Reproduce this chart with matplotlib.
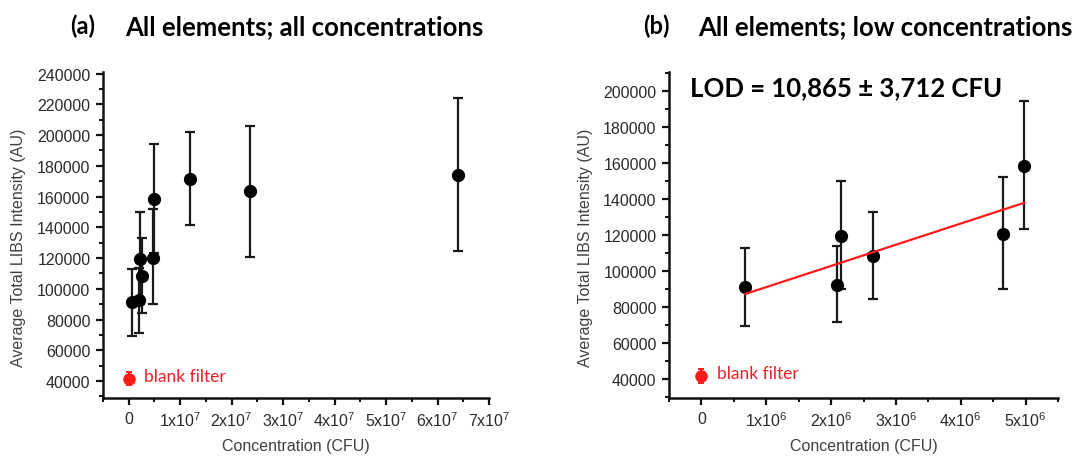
import matplotlib

matplotlib.use("Agg")
import matplotlib.pyplot as plt
from matplotlib.ticker import FixedLocator, MultipleLocator

# LIBS intensity vs. concentration, low-concentration samples
conc_low = [0.665e6, 2.09e6, 2.16e6, 2.64e6, 4.65e6, 4.98e6]
intensity_low = [91200, 92500, 119700, 108400, 120300, 158300]
err_low_lower = [69300, 71500, 90200, 84500, 90000, 123200]
err_low_upper = [113000, 113800, 150000, 132900, 152000, 194300]

# higher concentration samples (only in panel a)
conc_high = [1.20e7, 2.35e7, 6.39e7]
intensity_high = [171600, 163300, 174200]
err_high_lower = [141600, 120800, 124300]
err_high_upper = [202200, 205700, 224400]

# blank filter reference
blank_conc = 0
blank_intensity = 41600
blank_err = 4000

# linear fit over the low concentrations
fit_slope = 0.01177
fit_intercept = 79300
fit_range = [0.68e6, 4.98e6]

titles = ["All elements; all concentrations", "All elements; low concentrations"]
panel_tags = ["(a)", "(b)"]
lod_text = "LOD = 10,865 \u00b1 3,712 CFU"

TICK_FONT = "Liberation Sans"
TITLE_FONT = "Lato"
TEXT_GREY = "#2b2b2b"
RED = "#ff1a1a"

plt.rcParams["mathtext.fontset"] = "custom"
plt.rcParams["mathtext.rm"] = TICK_FONT
plt.rcParams["mathtext.it"] = TICK_FONT


def sci_label(mant, exp):
    return r"$\mathregular{%dx10^{%d}}$" % (mant, exp)


def style_axes(ax):
    for side in ["top", "right"]:
        ax.spines[side].set_visible(False)
    for side in ["left", "bottom"]:
        ax.spines[side].set_linewidth(1.8)
        ax.spines[side].set_color("#111111")
    ax.tick_params(which="major", direction="out", length=5, width=1.6,
                   colors="#111111", labelcolor=TEXT_GREY, labelsize=11.5)
    ax.tick_params(which="minor", direction="out", length=3, width=1.4, colors="#111111")
    ax.tick_params(axis="y", pad=4)
    ax.tick_params(axis="x", pad=4)
    for lbl in ax.get_xticklabels() + ax.get_yticklabels():
        lbl.set_fontfamily(TICK_FONT)
    ax.set_xlabel("Concentration (CFU)", fontsize=11.5, family=TICK_FONT,
                  color="#404040", labelpad=6)
    ax.set_ylabel("Average Total LIBS Intensity (AU)", fontsize=11.5,
                  family=TICK_FONT, color="#404040")
    ax.yaxis.set_label_coords(-0.2, 0.465)


def draw_points(ax, x, y, lo, hi):
    yerr = [[yi - l for yi, l in zip(y, lo)], [h - yi for yi, h in zip(y, hi)]]
    ax.errorbar(x, y, yerr=yerr, fmt="o", color="black", ecolor="#1a1a1a",
                markersize=8.5, elinewidth=1.6, capsize=3.5, capthick=1.6, zorder=3)


def draw_blank(ax):
    ax.errorbar([blank_conc], [blank_intensity], yerr=[blank_err], fmt="o",
                color=RED, ecolor=RED, markersize=8, elinewidth=1.4,
                capsize=2.5, capthick=1.4, zorder=3)
    ax.annotate("blank filter", (blank_conc, blank_intensity), xytext=(11, 2),
                textcoords="offset points", va="center", ha="left",
                color="#e8202a", fontsize=12.5, family=TITLE_FONT)


fig = plt.figure(figsize=(10.78, 4.6), dpi=100)
ax_a = fig.add_axes([0.0955, 0.1326, 0.3581, 0.7087])
ax_b = fig.add_axes([0.6206, 0.1326, 0.3609, 0.7087])

# panel (a): all concentrations
draw_points(ax_a, conc_low, intensity_low, err_low_lower, err_low_upper)
draw_points(ax_a, conc_high, intensity_high, err_high_lower, err_high_upper)
draw_blank(ax_a)
ax_a.set_xlim(-0.5e7, 7e7)
ax_a.set_ylim(29000, 241000)
xa_ticks = [i * 1e7 for i in range(8)]
ax_a.xaxis.set_major_locator(FixedLocator(xa_ticks))
ax_a.set_xticklabels(["0"] + [sci_label(i, 7) for i in range(1, 8)])
ax_a.xaxis.set_minor_locator(MultipleLocator(0.5e7))
ax_a.yaxis.set_major_locator(FixedLocator(range(40000, 240001, 20000)))
ax_a.yaxis.set_minor_locator(MultipleLocator(10000))
style_axes(ax_a)

# panel (b): low concentrations with linear fit
draw_points(ax_b, conc_low, intensity_low, err_low_lower, err_low_upper)
draw_blank(ax_b)
fit_y = [fit_slope * x + fit_intercept for x in fit_range]
ax_b.plot(fit_range, fit_y, color=RED, linewidth=1.6, zorder=4)
ax_b.set_xlim(-0.5e6, 5.5e6)
ax_b.set_ylim(29500, 210500)
xb_ticks = [i * 1e6 for i in range(6)]
ax_b.xaxis.set_major_locator(FixedLocator(xb_ticks))
ax_b.set_xticklabels(["0"] + [sci_label(i, 6) for i in range(1, 6)])
ax_b.xaxis.set_minor_locator(MultipleLocator(0.5e6))
ax_b.yaxis.set_major_locator(FixedLocator(range(40000, 200001, 20000)))
ax_b.yaxis.set_minor_locator(MultipleLocator(10000))
style_axes(ax_b)
ax_b.yaxis.set_label_coords(-0.195, 0.465)
ax_b.text(0.055, 0.955, lod_text, transform=ax_b.transAxes, ha="left", va="center",
          fontsize=18.5, fontweight="bold", family=TITLE_FONT, color="black")

# panel headings
for tag, title, x_tag, x_title in zip(panel_tags, titles, [0.065, 0.597], [0.116, 0.648]):
    fig.text(x_tag, 0.942, tag, ha="left", va="center", fontsize=17,
             fontweight="bold", family=TITLE_FONT)
    fig.text(x_title, 0.942, title, ha="left", va="center", fontsize=18.5,
             fontweight="bold", family=TITLE_FONT)

fig.savefig("out.png", dpi=100)
